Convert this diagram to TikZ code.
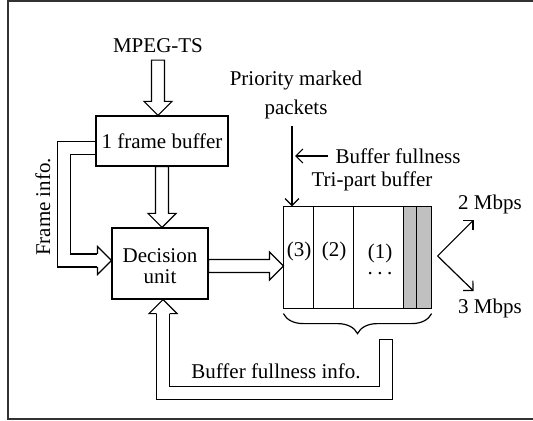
\documentclass[tikz,border=0pt]{standalone}
\usepackage{fontspec}
\setmainfont{Liberation Serif}
\usepackage{tikz}
\usetikzlibrary{calc, positioning, arrows.meta, decorations.pathreplacing}
\definecolor{cellgray}{RGB}{192,192,192}
\definecolor{framegray}{RGB}{50,50,50}

\tikzset{
  block/.style={line width=0.6pt, align=center, inner sep=0pt},
  shaft/.style={line width=0.6pt, double=white, double distance=5.9pt, line join=miter},
  plainarrow/.style={line width=0.6pt, -{Straight Barb[length=3.5pt,width=7pt]}},
}

% open head of a hollow arrow, from its base point to its tip
\newcommand{\hollowhead}[2]{%
  \coordinate (hs1) at ($(#1)!3.25pt!90:(#2)$);
  \coordinate (hs2) at ($(#1)!3.25pt!-90:(#2)$);
  \coordinate (hc1) at ($(#1)!7pt!90:(#2)$);
  \coordinate (hc2) at ($(#1)!7pt!-90:(#2)$);
  \fill[white] (hc1) -- (#2) -- (hc2) -- cycle;
  \draw[line width=0.6pt, line join=miter] (hs1) -- (hc1) -- (#2) -- (hc2) -- (hs2);
}
% straight hollow arrow, closed at its start
\newcommand{\hollowarrow}[2]{%
  \coordinate (hb) at ($(#2)!7pt!(#1)$);
  \draw[line width=0.6pt, fill=white, line join=miter]
    ($(#1)!3.25pt!90:(#2)$) -- ($(hb)!3.25pt!-90:(#1)$) -- ($(hb)!7pt!-90:(#1)$) -- (#2)
    -- ($(hb)!7pt!90:(#1)$) -- ($(hb)!3.25pt!90:(#1)$) -- ($(#1)!3.25pt!-90:(#2)$) -- cycle;
}

\begin{document}
\begin{tikzpicture}[x=0.5pt, y=-0.5pt, font=\fontsize{10.5}{12.6}\selectfont]
    \useasboundingbox (0,0) rectangle (533,421);

    % Outer frame (open on the right)
    \draw[line width=1pt, framegray] (533,1) -- (8,1) -- (8,419) -- (533,419);

    % Blocks
    \node (mpeg) at (158,46) {MPEG-TS};
    \node[block, draw, minimum width=66pt, minimum height=25pt] (fbuf) at (162,141) {1 frame buffer};
    \node[block, draw, minimum width=48pt, minimum height=35.5pt] (dec) at (160,263.5) {};
    \node[align=center] (declab) at ($(dec.center)+(0,3)$) {Decision\\[-2.1pt]unit};
    \node[block, minimum width=73.5pt, minimum height=50.5pt] (tri) at (357.5,257.5) {};

    % The tri-part buffer and its cells
    \fill[cellgray] ($(tri.north west)+(120,0)$) rectangle (tri.south east);
    \foreach \dx in {30,70,120,133} {
        \draw[line width=0.6pt] ($(tri.north west)+(\dx,0)$) -- ($(tri.south west)+(\dx,0)$);
    }
    \draw[line width=0.6pt] (tri.north west) rectangle (tri.south east);
    \foreach \x/\lab in {299/3, 334/2} {
        \node[inner sep=0pt] (cell\lab) at (\x,251) {(\lab)};
    }
    \node[inner sep=0pt, align=center] (cell1) at (380,259) {(1)\\[-4.6pt].\kern2.2pt.\kern2.2pt.};

    % Labels
    \node (trilab) at (372,181) {Tri-part buffer};
    \node[align=center] (pkt) at (296,95) {Priority marked\\[1.6pt]packets};
    \node (bfull) at (398,156) {Buffer fullness};
    \node (rate2) at (490,204) {2 Mbps};
    \node (rate3) at (490,308) {3 Mbps};
    \node[rotate=90] (finfo) at (43,207) {Frame info.};
    \node (fbinfo) at (276,371) {Buffer fullness info.};

    % Hollow arrows along the main path
    \coordinate (mpegtip) at (mpeg.south |- fbuf.north);
    \hollowarrow{mpeg.south}{mpegtip}
    \coordinate (fbuftip) at (fbuf.south |- dec.north);
    \hollowarrow{fbuf.south}{fbuftip}
    \coordinate (decout) at ($(dec.east)+(0,2.5)$);
    \coordinate (decouttip) at (decout -| tri.west);
    \hollowarrow{decout}{decouttip}

    % Frame info. loop
    \coordinate (fistart) at ($(fbuf.west)+(0,7)$);
    \coordinate (fitip) at ($(dec.west)+(0,-3)$);
    \coordinate (fibase) at ($(fitip)+(-14,0)$);
    \draw[shaft] (fistart) -| ($(fibase)+(-33.5,0)$) -- (fibase);
    \hollowhead{fibase}{fitip}

    % Buffer fullness feedback
    \coordinate (fbtop) at ($(tri.south)+(28.5,31)$);
    \coordinate (fbtip) at ($(dec.south)+(3,0)$);
    \coordinate (fbbase) at ($(fbtip)+(0,14)$);
    \draw[shaft] (fbtop) -- ($(fbtop)+(0,53)$) -| (fbbase);
    \draw[line width=0.6pt] ($(fbtop)+(-3.55pt,0)$) -- ($(fbtop)+(3.55pt,0)$);
    \hollowhead{fbbase}{fbtip}

    % Brace under the buffer
    \draw[line width=0.6pt, decorate, decoration={brace, mirror, amplitude=10pt}]
        ($(tri.south west)+(0,5)$) -- ($(tri.south east)+(0,5)$);

    % Marked packets and fullness
    \coordinate (pkttop) at (292,126);
    \draw[plainarrow] (pkttop) -- (pkttop |- tri.north);
    \draw[plainarrow] (bfull.west) -- ($(bfull.west -| pkttop)+(3,0)$);

    % Output rates
    \coordinate (split) at ($(tri.east)+(6,-1.5)$);
    \coordinate (out2) at ($(split)+(36,-36)$);
    \coordinate (out3) at ($(split)+(36,35)$);
    \draw[plainarrow] (split) -- (out2);
    \draw[plainarrow] (split) -- (out3);
\end{tikzpicture}
\end{document}
